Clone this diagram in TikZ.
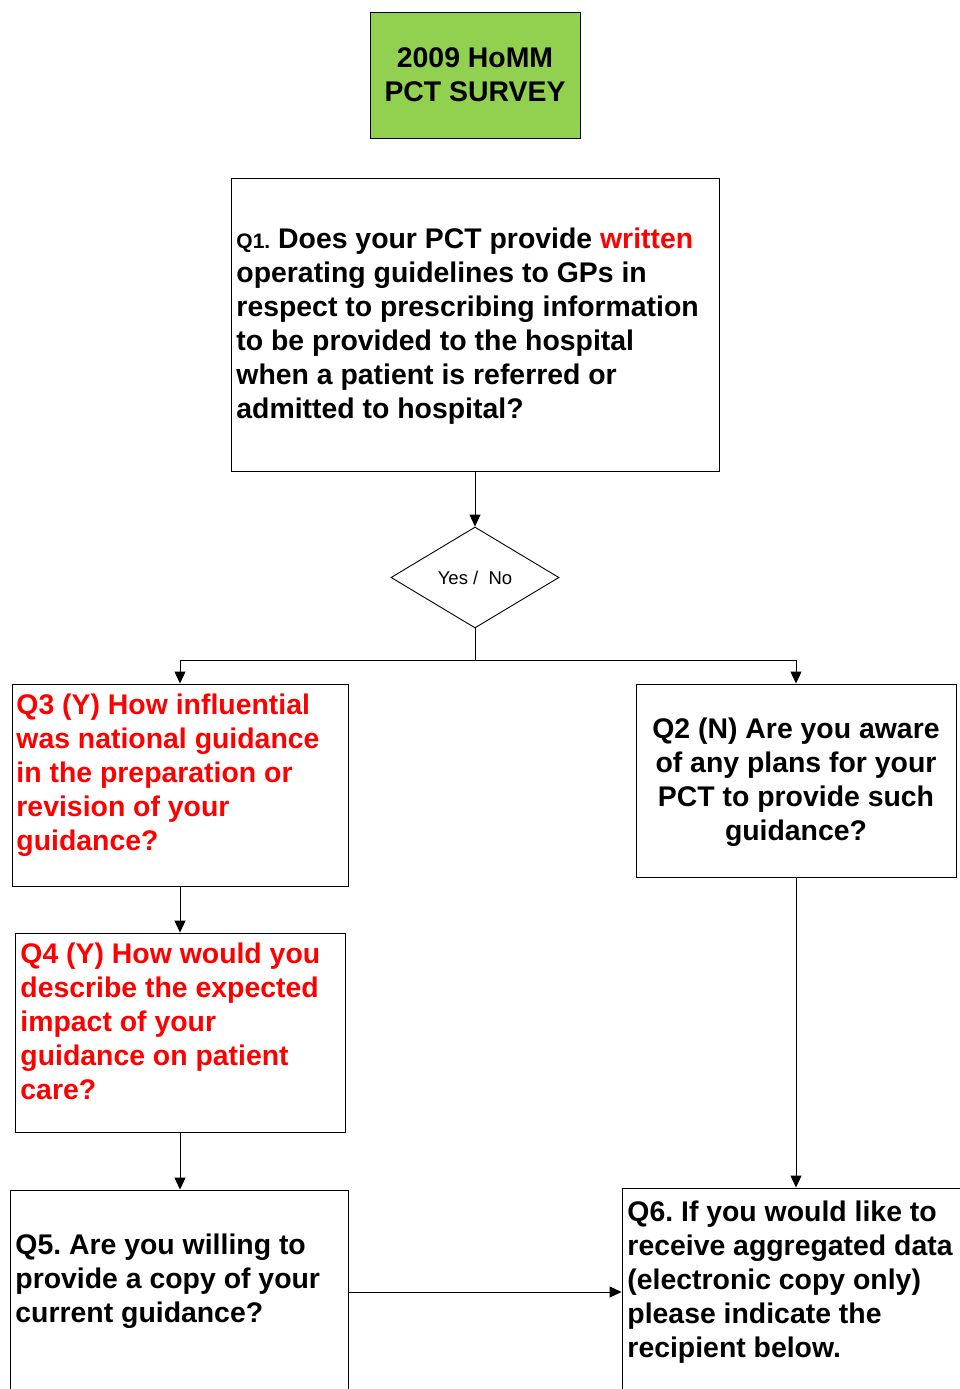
\documentclass[tikz,border=0pt]{standalone}
\usepackage{fontspec}
\setmainfont{Liberation Sans}
\usepackage{xcolor}
\definecolor{surveygreen}{RGB}{146,208,80}
\usetikzlibrary{arrows.meta,shapes.geometric,positioning,calc}
\frenchspacing

\begin{document}
\begin{tikzpicture}[x=1pt, y=-1pt, line width=0.9pt, >={Triangle[length=12pt, width=11pt]},
		qbox/.style={draw, rectangle, inner sep=0pt},
		qtext/.style={inner sep=0pt, align=left, anchor=west, font=\fontsize{28.4}{34}\selectfont\bfseries}]
		\useasboundingbox (0,0) rectangle (959,1389);
		% title
		\node[qbox, fill=surveygreen, minimum width=210, minimum height=126, align=center,
			font=\fontsize{28.4}{34}\selectfont\bfseries] (title) at (475,75) {2009 HoMM\\PCT SURVEY};
		% first question and the yes / no choice
		\node[qbox, minimum width=488, minimum height=293] (q1) at (475,324.5) {};
		\node[qtext] (q1t) at (236,326) {{\fontsize{21}{34}\selectfont Q1.} Does your PCT provide \textcolor{red}{written}\\
			operating guidelines to GPs in\\
			respect to prescribing information\\
			to be provided to the hospital\\
			when a patient is referred or\\
			admitted to hospital?};
		\node[diamond, draw, aspect=1.66, minimum width=168, minimum height=101, inner sep=0pt,
			font=\fontsize{18.5}{22}\selectfont] (yn) at (475,577.5) {Yes /\ \ No};
		\coordinate (split) at (475,660);
		% yes branch
		\node[qbox, minimum width=336, minimum height=202] (q3) at (180,785) {};
		\node[qtext, text=red] (q3t) at (16,775) {Q3 (Y) How influential\\
			was national guidance\\
			in the preparation or\\
			revision of your\\
			guidance?};
		\node[qbox, minimum width=330, minimum height=199] (q4) at (180,1032.5) {};
		\node[qtext, text=red] (q4t) at (20,1021) {Q4 (Y) How would you\\
			describe the expected\\
			impact of your\\
			guidance on patient\\
			care?};
		\node[qbox, minimum width=338, minimum height=204] (q5) at (179,1292) {};
		\node[qtext] (q5t) at (15,1281.5) {Q5. Are you willing to\\
			provide a copy of your\\
			current guidance?};
		% no branch
		\node[qbox, minimum width=320, minimum height=193] (q2) at (796,780.5) {};
		\node[qtext, align=center, anchor=center] (q2t) at (796,782.5)
			{Q2 (N) Are you aware\\of any plans for your\\PCT to provide such\\guidance?};
		\node[qbox, minimum width=380, minimum height=220] (q6) at (812,1298) {};
		\node[qtext] (q6t) at (627,1282.5) {Q6. If you would like to\\
			receive aggregated data\\
			(electronic copy only)\\
			please indicate the\\
			recipient below.};
		% connectors
		\draw[->] (q1.south) -- (yn.north);
		\draw (yn.south) -- (split);
		\draw[->] (split) -| (q3.north);
		\draw[->] (split) -| (q2.north);
		\draw[->] (q3.south) -- (q4.north);
		\draw[->] (q4.south) -- (q4.south |- q5.north);
		\draw[->] (q2.south) -- (q2.south |- q6.north);
		\draw[->] (q5.east) -- (q5.east -| q6.west);
	\end{tikzpicture}
\end{document}
